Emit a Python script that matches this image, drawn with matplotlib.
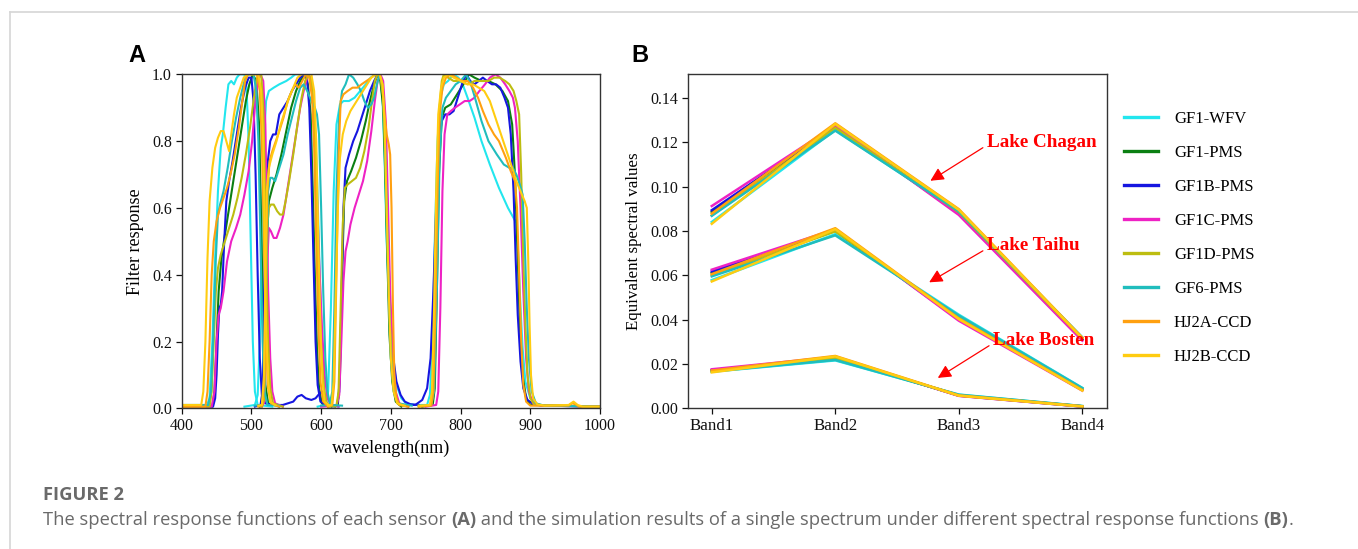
import matplotlib
matplotlib.use('Agg')
import matplotlib.pyplot as plt
from matplotlib.lines import Line2D

# ---------------- data ----------------
sensors = ['GF1-WFV', 'GF1-PMS', 'GF1B-PMS', 'GF1C-PMS', 'GF1D-PMS', 'GF6-PMS', 'HJ2A-CCD', 'HJ2B-CCD']
colors = ['#22E6EE', '#0B7F12', '#1616E0', '#EE22C4', '#BDBD10', '#20BDBD', '#FFA010', '#FFCC10']
band_labels = ['Band1', 'Band2', 'Band3', 'Band4']

# Panel A: spectral response functions, (wavelength nm, response) per band
GF1_WFV = [
    [(400, .008), (436, .008), (440, .03), (444, .2), (448, .45), (452, .65), (456, .78), (459, .82), (463, .9), (467, .97), (471, .98), (475, .97), (479, .99), (483, 1.0), (490, 1.0), (493, .96), (496, .8), (499, .5), (502, .2), (505, .05), (509, .01), (530, .005)],
    [(490, .005), (505, .01), (509, .04), (512, .2), (515, .55), (518, .8), (521, .92), (525, .95), (532, .96), (540, .97), (550, .98), (557, .99), (563, 1.0), (580, 1.0), (586, .98), (590, .9), (594, .7), (598, .4), (602, .15), (605, .04), (609, .01), (625, .005)],
    [(595, .005), (606, .01), (610, .05), (614, .3), (618, .65), (622, .85), (627, .91), (632, .92), (640, .92), (648, .93), (656, .95), (664, .97), (671, .99), (678, 1.0), (684, 1.0), (688, .93), (691, .75), (694, .5), (698, .3), (703, .15), (708, .07), (715, .03), (722, .015), (735, .01), (750, .01)],
    [(740, .008), (752, .01), (756, .04), (760, .2), (763, .5), (767, .8), (771, .93), (776, .97), (782, .98), (790, 1.0), (797, .99), (803, .97), (810, .93), (820, .87), (830, .8), (842, .73), (855, .66), (868, .6), (880, .555), (883, .45), (886, .3), (889, .18), (893, .08), (900, .03), (910, .012), (920, .008), (1000, .005)],
]
GF1_PMS = [
    [(400, .005), (444, .005), (447, .05), (450, .2), (453, .35), (457, .45), (462, .52), (468, .6), (474, .68), (480, .76), (486, .84), (492, .92), (497, .97), (502, 1.0), (507, .98), (511, .85), (514, .55), (517, .25), (520, .07), (524, .015), (540, .005)],
    [(512, .005), (517, .02), (519, .2), (522, .5), (525, .62), (530, .66), (536, .7), (543, .76), (550, .83), (557, .9), (564, .95), (570, .98), (576, 1.0), (581, .97), (585, .88), (588, .65), (591, .4), (594, .18), (597, .06), (601, .015), (610, .005)],
    [(615, .005), (624, .01), (627, .1), (630, .4), (633, .62), (637, .68), (643, .71), (650, .75), (657, .8), (664, .86), (670, .92), (676, .97), (681, 1.0), (685, .98), (689, .9), (692, .7), (695, .45), (698, .22), (702, .08), (707, .02), (715, .005)],
    [(745, .005), (760, .01), (763, .06), (766, .35), (769, .7), (773, .87), (778, .9), (786, .91), (795, .94), (804, .97), (812, 1.0), (820, .99), (830, .98), (840, .98), (850, .97), (860, .95), (868, .92), (874, .85), (878, .7), (882, .45), (885, .25), (889, .1), (894, .03), (900, .01), (1000, .005)],
]
GF1B_PMS = [
    [(400, .005), (445, .005), (448, .03), (450, .1), (452, .22), (454, .3), (456, .31), (458, .35), (461, .5), (464, .62), (468, .68), (473, .74), (479, .82), (485, .9), (491, .96), (496, .99), (500, .99), (503, .92), (506, .7), (509, .4), (512, .15), (515, .04), (520, .015), (530, .01), (545, .01), (560, .02), (566, .035), (572, .04), (578, .03), (586, .025), (592, .03), (598, .045), (602, .05), (605, .03), (609, .01), (620, .005)],
    [(505, .005), (513, .01), (516, .05), (518, .3), (520, .6), (523, .73), (527, .8), (531, .82), (535, .82), (540, .88), (546, .9), (552, .92), (558, .95), (564, .97), (570, .99), (576, 1.0), (580, .98), (583, .9), (586, .7), (589, .45), (592, .2), (595, .07), (599, .02), (610, .005)],
    [(610, .005), (623, .01), (626, .05), (629, .3), (632, .6), (635, .72), (640, .76), (646, .8), (652, .83), (658, .87), (664, .91), (670, .95), (676, .98), (681, 1.0), (686, .99), (690, .92), (693, .75), (696, .5), (699, .3), (703, .16), (708, .08), (714, .04), (720, .02), (728, .012), (740, .01)],
    [(720, .01), (735, .01), (745, .025), (752, .06), (757, .15), (761, .35), (765, .6), (769, .8), (773, .86), (778, .88), (784, .88), (790, .89), (796, .93), (802, .97), (808, 1.0), (814, .98), (820, .97), (826, .98), (832, .99), (838, .98), (845, .97), (851, .97), (857, .96), (863, .93), (868, .9), (872, .82), (876, .65), (879, .45), (882, .28), (886, .14), (890, .06), (896, .025), (905, .012), (920, .008), (1000, .005)],
]
GF1C_PMS = [
    [(400, .005), (443, .005), (447, .05), (450, .2), (453, .28), (456, .3), (460, .35), (465, .44), (471, .5), (478, .54), (484, .58), (490, .64), (496, .71), (501, .8), (505, .9), (509, .98), (513, 1.0), (517, .98), (520, .85), (522, .6), (524, .35), (527, .15), (530, .05), (534, .015), (545, .005)],
    [(515, .005), (519, .02), (521, .2), (523, .45), (525, .54), (528, .53), (532, .51), (536, .51), (541, .54), (546, .58), (552, .66), (558, .74), (564, .82), (570, .9), (576, .96), (581, 1.0), (585, .99), (589, .9), (593, .7), (597, .45), (601, .25), (605, .1), (609, .03), (614, .01), (625, .005)],
    [(600, .005), (622, .008), (626, .04), (629, .2), (632, .38), (635, .47), (638, .5), (642, .55), (648, .6), (654, .64), (660, .68), (666, .74), (672, .83), (677, .92), (681, .98), (685, 1.0), (689, .98), (693, .85), (696, .6), (699, .35), (703, .15), (707, .05), (712, .015), (725, .005)],
    [(750, .005), (765, .01), (768, .05), (771, .3), (774, .65), (777, .82), (781, .88), (786, .89), (792, .9), (799, .91), (806, .92), (813, .92), (820, .93), (827, .95), (835, .97), (842, .99), (850, 1.0), (857, .99), (864, .97), (870, .95), (875, .93), (878, .9), (882, .8), (886, .6), (890, .35), (894, .15), (898, .05), (904, .015), (915, .008), (1000, .005)],
]
GF1D_PMS = [
    [(400, .005), (440, .005), (443, .05), (446, .2), (449, .35), (452, .42), (456, .46), (462, .5), (468, .54), (474, .58), (480, .63), (486, .69), (492, .76), (498, .84), (503, .92), (507, .98), (510, 1.0), (514, 1.0), (517, .9), (519, .7), (521, .45), (524, .2), (527, .06), (531, .015), (545, .005)],
    [(515, .005), (519, .03), (521, .3), (523, .55), (525, .6), (528, .61), (532, .61), (537, .59), (541, .58), (545, .58), (549, .62), (554, .68), (560, .76), (566, .85), (572, .93), (577, .98), (582, 1.0), (586, .98), (590, .88), (593, .65), (596, .4), (600, .18), (604, .06), (608, .015), (620, .005)],
    [(610, .005), (622, .008), (625, .05), (628, .3), (631, .55), (634, .66), (638, .67), (644, .68), (650, .69), (656, .72), (662, .77), (668, .84), (673, .92), (677, .98), (681, 1.0), (685, .99), (689, .93), (692, .75), (695, .5), (698, .28), (702, .12), (706, .04), (711, .012), (725, .005)],
    [(740, .005), (758, .01), (761, .05), (764, .3), (767, .65), (770, .9), (773, .98), (776, 1.0), (782, .99), (790, .98), (800, .98), (810, .97), (820, .98), (830, .98), (840, .98), (848, .99), (856, .99), (864, .98), (870, .97), (876, .95), (880, .92), (884, .88), (887, .7), (890, .45), (893, .25), (896, .1), (900, .03), (906, .01), (1000, .005)],
]
GF6_PMS = [
    [(400, .01), (438, .01), (442, .05), (445, .2), (449, .45), (452, .58), (455, .61), (460, .65), (466, .72), (472, .8), (478, .87), (484, .93), (490, .98), (495, 1.0), (503, 1.0), (507, .95), (510, .8), (513, .5), (516, .2), (519, .05), (523, .01), (540, .008)],
    [(505, .008), (515, .01), (518, .05), (521, .35), (524, .65), (527, .69), (530, .69), (534, .68), (540, .72), (546, .76), (552, .82), (558, .87), (564, .92), (570, .96), (575, .97), (580, .95), (586, .92), (591, .9), (594, .88), (597, .82), (600, .6), (603, .35), (606, .15), (609, .05), (613, .01), (630, .008)],
    [(600, .008), (612, .01), (616, .05), (619, .3), (622, .65), (626, .88), (630, .95), (635, .97), (640, 1.0), (646, .99), (652, .97), (657, .95), (662, .92), (667, .9), (672, .91), (676, .93), (680, .97), (684, 1.0), (688, .97), (691, .85), (694, .6), (697, .35), (700, .15), (704, .05), (710, .015), (730, .008)],
    [(740, .008), (758, .01), (762, .05), (766, .35), (770, .75), (774, .9), (779, .93), (786, .95), (793, .97), (800, .98), (808, 1.0), (815, .97), (822, .92), (830, .86), (840, .8), (852, .76), (862, .73), (870, .72), (875, .72), (880, .7), (885, .67), (889, .64), (892, .5), (895, .3), (898, .15), (902, .05), (908, .015), (920, .008), (1000, .005)],
]
HJ2A_CCD = [
    [(400, .005), (434, .005), (437, .05), (440, .2), (443, .4), (446, .5), (450, .56), (455, .6), (460, .63), (465, .66), (470, .7), (476, .76), (482, .84), (487, .92), (491, .98), (495, 1.0), (508, 1.0), (512, .95), (515, .8), (518, .5), (521, .2), (524, .06), (528, .015), (540, .005)],
    [(510, .005), (516, .01), (519, .1), (521, .4), (523, .65), (526, .74), (530, .77), (535, .8), (540, .83), (546, .87), (552, .92), (558, .95), (563, .97), (568, .96), (573, .98), (578, 1.0), (583, .99), (587, .93), (590, .78), (593, .5), (596, .25), (599, .08), (603, .02), (610, .005)],
    [(610, .005), (616, .01), (619, .08), (622, .4), (625, .75), (628, .92), (632, .94), (638, .95), (645, .96), (652, .96), (658, .97), (665, .98), (672, .99), (678, 1.0), (684, 1.0), (688, .97), (691, .88), (694, .82), (697, .79), (699, .76), (701, .6), (703, .3), (705, .1), (708, .03), (712, .01), (725, .005)],
    [(740, .005), (758, .008), (761, .05), (764, .3), (767, .65), (770, .88), (774, .96), (779, .99), (786, 1.0), (794, .99), (802, .98), (810, .98), (818, .96), (825, .93), (832, .89), (840, .85), (848, .82), (855, .8), (865, .75), (872, .71), (878, .68), (881, .6), (884, .4), (887, .2), (890, .07), (894, .02), (900, .008), (955, .008), (960, .015), (965, .012), (970, .005), (1000, .005)],
]
HJ2B_CCD = [
    [(400, .01), (428, .01), (431, .05), (434, .2), (437, .45), (440, .62), (444, .72), (448, .78), (452, .81), (456, .83), (460, .83), (464, .8), (468, .77), (471, .82), (475, .88), (479, .93), (484, .96), (489, .99), (495, 1.0), (510, 1.0), (514, .95), (517, .8), (519, .5), (521, .25), (524, .08), (527, .02), (535, .008)],
    [(510, .008), (515, .01), (518, .1), (520, .4), (522, .65), (525, .72), (530, .76), (536, .8), (542, .85), (548, .89), (554, .93), (560, .96), (566, .99), (572, 1.0), (586, 1.0), (590, .95), (593, .8), (596, .5), (599, .25), (602, .08), (605, .02), (612, .008)],
    [(610, .008), (615, .01), (618, .08), (621, .35), (624, .6), (627, .75), (631, .82), (636, .86), (642, .89), (648, .91), (654, .93), (660, .95), (666, .97), (672, .99), (678, 1.0), (684, 1.0), (688, .97), (691, .85), (694, .6), (697, .35), (700, .15), (704, .05), (709, .015), (720, .008)],
    [(740, .008), (756, .01), (759, .05), (762, .3), (765, .65), (768, .88), (772, .96), (776, .99), (782, 1.0), (790, .99), (800, .98), (810, .97), (818, .97), (826, .96), (834, .95), (842, .92), (850, .87), (858, .82), (866, .77), (874, .72), (880, .68), (886, .65), (892, .62), (895, .6), (897, .45), (899, .25), (901, .1), (904, .03), (910, .012), (920, .008), (955, .01), (962, .02), (968, .01), (975, .005), (1000, .005)],
]
srf_curves = [GF1_WFV, GF1_PMS, GF1B_PMS, GF1C_PMS, GF1D_PMS, GF6_PMS, HJ2A_CCD, HJ2B_CCD]

# Panel B: equivalent spectral values per sensor (Band1..Band4)
chagan = [
    [0.0840, 0.1255, 0.0885, 0.0318],
    [0.0885, 0.1270, 0.0878, 0.0312],
    [0.0893, 0.1272, 0.0880, 0.0310],
    [0.0912, 0.1275, 0.0872, 0.0305],
    [0.0870, 0.1265, 0.0885, 0.0315],
    [0.0868, 0.1252, 0.0888, 0.0320],
    [0.0878, 0.1285, 0.0898, 0.0318],
    [0.0832, 0.1282, 0.0895, 0.0316],
]
taihu = [
    [0.0578, 0.0785, 0.0422, 0.0092],
    [0.0610, 0.0800, 0.0405, 0.0085],
    [0.0617, 0.0802, 0.0400, 0.0083],
    [0.0625, 0.0807, 0.0395, 0.0080],
    [0.0600, 0.0798, 0.0410, 0.0086],
    [0.0595, 0.0780, 0.0418, 0.0091],
    [0.0605, 0.0812, 0.0405, 0.0082],
    [0.0572, 0.0808, 0.0402, 0.0080],
]
bosten = [
    [0.0165, 0.0216, 0.0062, 0.0010],
    [0.0170, 0.0228, 0.0058, 0.0009],
    [0.0172, 0.0230, 0.0057, 0.0008],
    [0.0176, 0.0232, 0.0056, 0.0008],
    [0.0168, 0.0226, 0.0059, 0.0009],
    [0.0166, 0.0218, 0.0061, 0.0010],
    [0.0170, 0.0236, 0.0058, 0.0009],
    [0.0162, 0.0234, 0.0057, 0.0008],
]

# ---------------- figure ----------------
SERIF = ['Liberation Serif', 'DejaVu Serif']
plt.rcParams['font.family'] = SERIF

W, H = 1358, 549
fig = plt.figure(figsize=(W / 100, H / 100), dpi=100)

def box(l, t, r, b):
    return [l / W, 1 - b / H, (r - l) / W, (b - t) / H]

axA = fig.add_axes(box(181.7, 74.3, 600, 408.3))
axB = fig.add_axes(box(687.7, 74.3, 1107, 408.3))

for ax in (axA, axB):
    for s in ax.spines.values():
        s.set_linewidth(1.0)
        s.set_color('#333333')
    ax.tick_params(direction='out', length=4, width=0.9, labelsize=11.5, colors='#111111', pad=3)

# Panel A
for curves, c in zip(srf_curves, colors):
    for band in curves:
        xs = [p[0] for p in band]
        ys = [p[1] for p in band]
        axA.plot(xs, ys, color=c, lw=1.5, solid_joinstyle='round')
axA.set_xlim(400, 1000)
axA.set_ylim(0, 1.0)
axA.set_xticks(range(400, 1001, 100))
axA.set_yticks([0.0, 0.2, 0.4, 0.6, 0.8, 1.0])
axA.set_yticklabels(['0.0', '0.2', '0.4', '0.6', '0.8', '1.0'])
axA.set_xlabel('wavelength(nm)', fontsize=13, labelpad=4)
axA.set_ylabel('Filter response', fontsize=13, labelpad=6)

# Panel B
xb = list(range(len(band_labels)))
for lake in (chagan, taihu, bosten):
    for vals, c in zip(lake, colors):
        axB.plot(xb, vals, color=c, lw=1.8)
axB.set_xlim(-0.195, 3.2)
axB.set_ylim(0, 0.1506)
axB.set_xticks(xb)
axB.set_xticklabels(band_labels, fontsize=12.2)
axB.set_yticks([0.0, 0.02, 0.04, 0.06, 0.08, 0.10, 0.12, 0.14])
axB.set_yticklabels(['0.00', '0.02', '0.04', '0.06', '0.08', '0.10', '0.12', '0.14'])
axB.set_ylabel('Equivalent spectral values', fontsize=12.2, labelpad=6)

ann = [('Lake Chagan', (2.23, 0.1200), (1.77, 0.1026)),
       ('Lake Taihu', (2.23, 0.0735), (1.76, 0.0568)),
       ('Lake Bosten', (2.28, 0.0307), (1.83, 0.0137))]
for txt, tpos, hpos in ann:
    axB.annotate('', xy=hpos, xytext=(tpos[0] - 0.035, tpos[1] - 0.0025),
                 arrowprops=dict(arrowstyle='-|>', color='#FF0000', lw=0.9,
                                 mutation_scale=20, shrinkA=0, shrinkB=0))
    axB.text(tpos[0], tpos[1], txt, color='#FF0000', fontsize=13.8,
             fontweight='bold', ha='left', va='center')

# legend
handles = [Line2D([0], [0], color=c, lw=2.4) for c in colors]
fig.legend(handles, sensors, loc='upper left', bbox_to_anchor=(1124 / W, 1 - 111 / H),
           frameon=False, fontsize=12, handlelength=2.05, handletextpad=0.95,
           labelspacing=1.08, borderaxespad=0, borderpad=0)

# panel letters
SANS = ['Liberation Sans', 'DejaVu Sans']
fig.text(128 / W, 1 - 55 / H, 'A', family=SANS, fontweight='bold', fontsize=17, va='center', ha='left')
fig.text(631 / W, 1 - 55 / H, 'B', family=SANS, fontweight='bold', fontsize=17, va='center', ha='left')

# border lines
fig.add_artist(Line2D([10 / W, 10 / W], [0, 1 - 12 / H], transform=fig.transFigure, color='#d6d6d6', lw=1.2))
fig.add_artist(Line2D([10 / W, 1], [1 - 12 / H, 1 - 12 / H], transform=fig.transFigure, color='#d6d6d6', lw=1.2))

# caption
CAP = ['Open Sans', 'DejaVu Sans']
capcol = '#6a6a6a'
fig.text(43 / W, 1 - 495 / H, 'FIGURE 2', family=CAP, fontweight='bold', fontsize=13.2, color=capcol, va='center')
pieces = [('The spectral response functions of each sensor ', 'normal'), ('(A)', 'bold'),
          (' and the simulation results of a single spectrum under different spectral response functions ', 'normal'),
          ('(B)', 'bold'), ('.', 'normal')]
fig.canvas.draw()
r = fig.canvas.get_renderer()
x = 43
for s, wt in pieces:
    t = fig.text(x / W, 1 - 520 / H, s, family=CAP, fontweight=wt, fontsize=13.2, color=capcol, va='center')
    bb = t.get_window_extent(renderer=r)
    x += bb.width

fig.savefig('out.png', dpi=100)
